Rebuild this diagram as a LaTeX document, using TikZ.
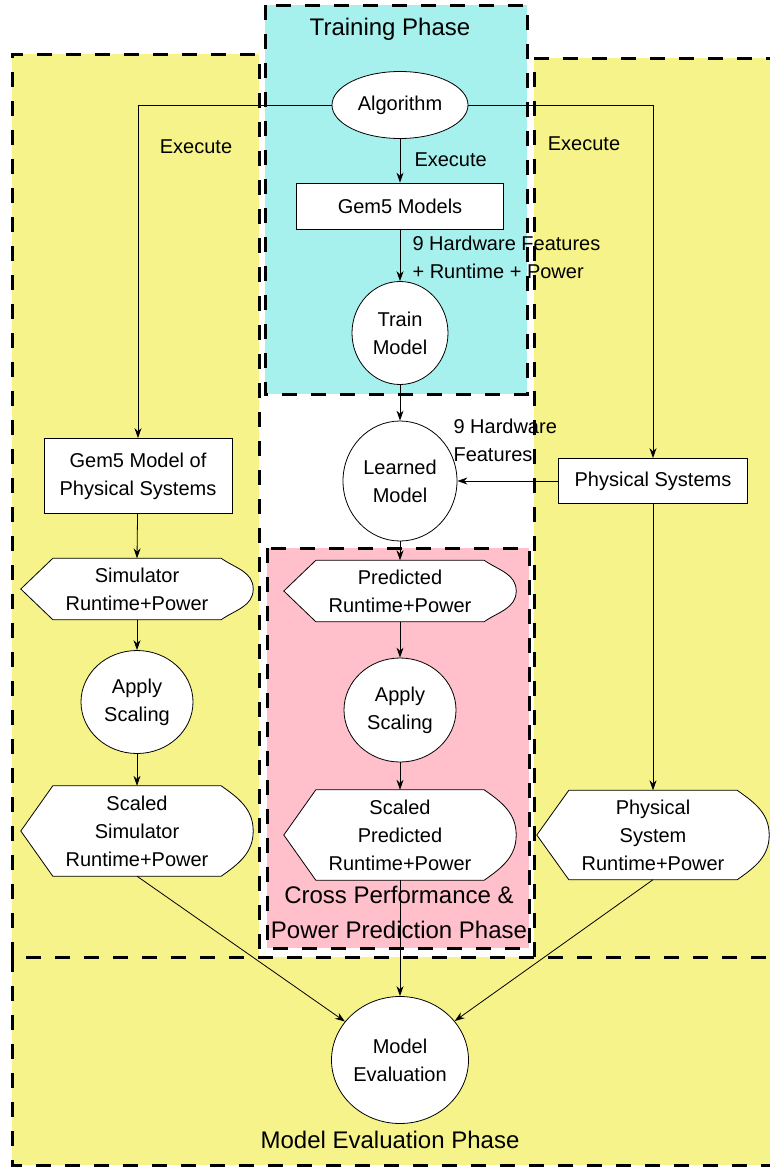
\documentclass[tikz,border=0pt]{standalone}
\usepackage{fontspec}
\setmainfont{Liberation Sans}
\usepackage{tikz}
\usetikzlibrary{shapes.geometric}
\usetikzlibrary{arrows.meta}

\definecolor{evalyellow}{RGB}{245,243,138}
\definecolor{traincyan}{RGB}{166,240,238}
\definecolor{predpink}{RGB}{255,192,203}

\tikzset{
  phase/.style={line width=3pt, dash pattern=on 15pt off 14pt},
  phasetitle/.style={font=\fontsize{24}{35}\selectfont, align=center},
  procbox/.style={draw, fill=white, line width=0.8pt, inner sep=0pt, align=center},
  oval/.style={draw, ellipse, fill=white, line width=0.8pt, inner sep=0pt, align=center},
  dispbox/.style={inner sep=0pt, minimum width=232pt},
  flow/.style={->, line width=0.8pt},
  lbl/.style={align=left}
}

% display box: pointed on the left, rounded on the right
\newcommand{\dispnode}[4]{%
  \node[dispbox, minimum height=#3] (#1) at #2 {};
  \draw[fill=white, line width=0.8pt] (#1.west) -- ([xshift=32pt]#1.north west)
    -- ([xshift=-32pt]#1.north east) to[out=-35, in=90] (#1.east)
    to[out=-90, in=35] ([xshift=-32pt]#1.south east)
    -- ([xshift=32pt]#1.south west) -- cycle;
  \node[align=center] (#1-text) at (#1) {#4};
}

\begin{document}
\begin{tikzpicture}[x=1pt, y=-1pt, >={Stealth[length=10pt, width=7pt]},
  font=\fontsize{20}{28}\selectfont]
\useasboundingbox (0,0) rectangle (770,1167);
\clip (0,0) rectangle (770,1167);

% Phases
\fill[evalyellow] (12,54) rectangle (259,957);
\draw[phase] (12,957) -- (12,54) -- (259,54) -- (259,957);
\fill[evalyellow] (534,58) rectangle (790,957);
\draw[phase] (534,957) -- (534,58) -- (790,58);
\filldraw[phase, fill=evalyellow] (12,957) rectangle (790,1165);
\filldraw[phase, fill=traincyan] (265,5) rectangle (527,394);
\filldraw[phase, fill=predpink] (267,548) rectangle (529,948);

\node[phasetitle] (trainttl) at (390,29) {Training Phase};
\node[phasetitle] (predttl) at (399,912) {Cross Performance \&\\Power Prediction Phase};
\node[phasetitle] (evalttl) at (390,1140) {Model Evaluation Phase};

% Training
\node[oval, minimum width=136pt, minimum height=67pt] (alg) at (400,105) {Algorithm};
\node[procbox, minimum width=207pt, minimum height=46pt] (gem) at (400,206) {Gem5 Models};
\node[oval, minimum width=96pt, minimum height=103pt] (train) at (400,333) {Train\\Model};
\node[oval, minimum width=114pt, minimum height=120pt] (learned) at (400,481) {Learned\\Model};

% Simulator side
\node[procbox, minimum width=188pt, minimum height=75pt] (gemphys) at (138,476) {Gem5 Model of\\Physical Systems};
\dispnode{sim}{(137,589)}{61pt}{Simulator\\Runtime+Power}
\node[oval, minimum width=112pt, minimum height=103pt] (scaleL) at (137,702) {Apply\\Scaling};
\dispnode{scsim}{(137,831)}{90pt}{Scaled\\Simulator\\Runtime+Power}

% Prediction
\dispnode{pred}{(400,591)}{61pt}{Predicted\\Runtime+Power}
\node[oval, minimum width=112pt, minimum height=104pt] (scaleM) at (400,710) {Apply\\Scaling};
\dispnode{scpred}{(400,835)}{90pt}{Scaled\\Predicted\\Runtime+Power}

% Physical side
\node[procbox, minimum width=189pt, minimum height=45pt] (phys) at (653,481) {Physical Systems};
\dispnode{physrt}{(653,835)}{89pt}{Physical\\System\\Runtime+Power}

\node[oval, minimum width=137pt, minimum height=127pt] (evalm) at (400,1060) {Model\\Evaluation};

% Labels
\node (exleft) at (196,147) {Execute};
\node (exright) at (584,144) {Execute};
\node[anchor=west] (exmid) at (411,160) {Execute};
\node[lbl, anchor=west] (hwtrain) at (409,257) {9 Hardware Features\\+ Runtime + Power};
\node[lbl, anchor=west] (hwlearn) at (450,440) {9 Hardware\\Features};

% Connectors
\draw[flow] (alg.west) -| (gemphys.north);
\draw[flow] (alg.east) -| (phys.north);
\draw[flow] (alg) -- (gem);
\draw[flow] (gem) -- (train);
\draw[flow] (train) -- (learned);
\draw[flow] (phys) -- (learned);
\draw[flow] (learned) -- (pred.north);
\draw[flow] (gemphys) -- (sim.north);
\draw[flow] (sim.south) -- (scaleL);
\draw[flow] (scaleL) -- (scsim.north);
\draw[flow] (pred.south) -- (scaleM);
\draw[flow] (scaleM) -- (scpred.north);
\draw[flow] (phys) -- (physrt.north);
\draw[flow] (scsim.south) -- (evalm);
\draw[flow] (scpred.south) -- (evalm);
\draw[flow] (physrt.south) -- (evalm);
\end{tikzpicture}
\end{document}
